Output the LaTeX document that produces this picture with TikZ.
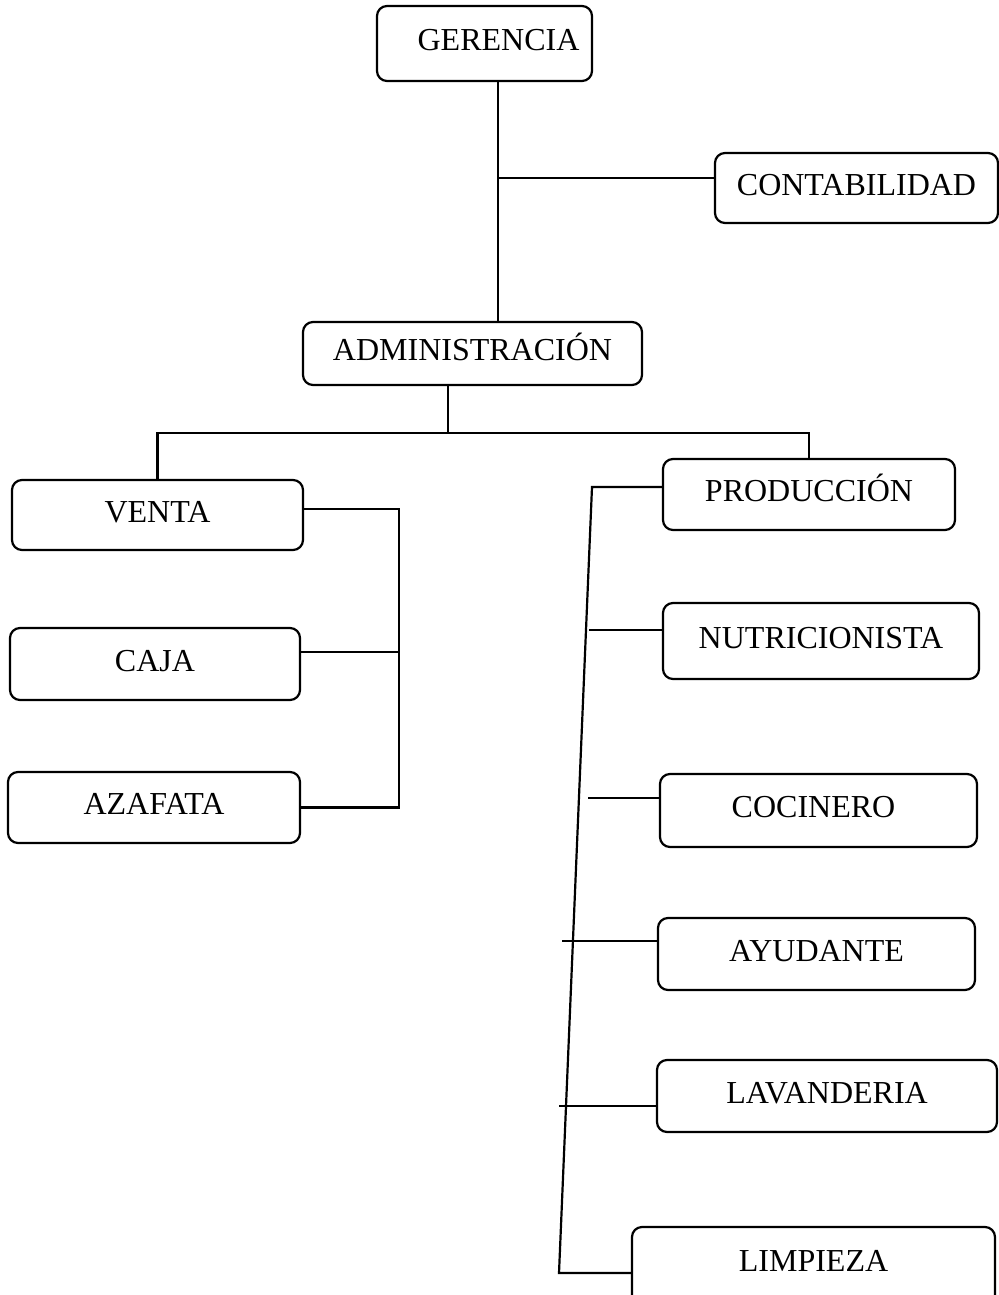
\documentclass[tikz,border=0pt]{standalone}
\usepackage{fontspec}
\setmainfont{Liberation Serif}
\usetikzlibrary{positioning}
\tikzset{
	puesto/.style={draw, line width=1.1pt, rounded corners=5pt, inner sep=0pt,
		font=\fontsize{16}{19}\selectfont, text height=11pt, text depth=4pt},
	tam/.style 2 args={minimum width=#1*0.5pt, minimum height=#2*0.5pt},
	linea/.style={line width=1.1pt}
}
\begin{document}
\begin{tikzpicture}[x=0.5pt, y=-0.5pt]
				\useasboundingbox (0,0) rectangle (999,1295);
				% puestos
				\node [puesto, tam={215}{75}] (ger) at (484.5,43.5) {\hspace*{14pt}GERENCIA};
				\node [puesto, tam={283}{70}] (cont) at (856.5,188) {CONTABILIDAD};
				\node [puesto, tam={339}{63}] (adm) at (472.5,353.5) {ADMINISTRACIÓN};
				\node [puesto, tam={291}{70}] (venta) at (157.5,515) {VENTA};
				\node [puesto, tam={290}{72}] (caja) at (155,664) {CAJA};
				\node [puesto, tam={292}{71}] (azaf) at (154,807.5) {AZAFATA};
				\node [puesto, tam={292}{71}] (prod) at (809,494.5) {PRODUCCIÓN};
				\node [puesto, tam={316}{76}] (nutri) at (821,641) {NUTRICIONISTA};
				\node [puesto, tam={317}{73}] (coci) at (818.5,810.5) {COCINERO\hspace*{5pt}};
				\node [puesto, tam={317}{72}] (ayud) at (816.5,954) {AYUDANTE};
				\node [puesto, tam={340}{72}] (lav) at (827,1096) {LAVANDERIA};
				\node [puesto, tam={363}{93}, text depth=13.4pt] (limp) at (813.5,1273.5) {LIMPIEZA};
				
				% puntos de union
				\coordinate (tronco) at (498,178);
				\coordinate (bus) at (448,433);
				\coordinate (ptop) at (592,487);
				\coordinate (pbot) at (559,1273);
				
				% conexiones
				\draw [linea] (ger.south -| tronco) -- (adm.north -| tronco);
				\draw [linea] (tronco) -- (tronco -| cont.west);
				\draw [linea] (adm.south -| bus) -- (bus);
				\draw [linea] (venta.north) |- (bus) -| (prod.north);
				\draw [linea] ([yshift=3pt]venta.east) -| ([xshift=49pt]azaf.east) -- (azaf.east);
				\draw [linea] ([yshift=6pt]caja.east) -- ++(97,0);
				\draw [linea] (ptop -| prod.west) -- (ptop) -- (pbot) -- (pbot -| limp.west);
				\draw [linea] ([yshift=5.5pt]nutri.west) -- ++(-73,0);
				\draw [linea] ([yshift=6.25pt]coci.west) -- ++(-71,0);
				\draw [linea] ([yshift=6.5pt]ayud.west) -- ++(-95,0);
				\draw [linea] ([yshift=-5pt]lav.west) -- ++(-97,0);
\end{tikzpicture}
\end{document}
